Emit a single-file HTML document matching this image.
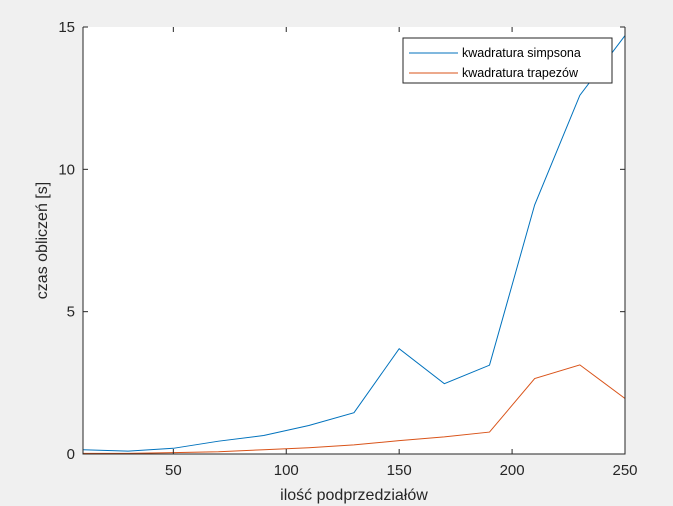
<!DOCTYPE html>
<html><head><meta charset="utf-8"><style>
body{margin:0;background:#f0f0f0;}
svg{display:block;font-family:"Liberation Sans",sans-serif;}
</style></head><body>
<svg id="chart" width="673" height="506"></svg>
<script>
const xs=[10,30,50,70,90,110,130,150,170,190,210,230,250];
const simpson=[0.15,0.1,0.2,0.45,0.65,1.0,1.45,3.7,2.47,3.12,8.75,12.6,14.7];
const trapez=[0.02,0.02,0.05,0.08,0.15,0.22,0.32,0.47,0.6,0.77,2.65,3.13,1.95];
const xTicks=[50,100,150,200,250];
const yTicks=[0,5,10,15];
const L=83,R=625,T=27,B=454;
const sx=v=>L+(v-10)/240*(R-L);
const sy=v=>B-v/15*(B-T);
const svg=document.getElementById('chart');
const NS='http://www.w3.org/2000/svg';
function mk(tag,attrs,parent){const e=document.createElementNS(NS,tag);for(const k in attrs)e.setAttribute(k,attrs[k]);(parent||svg).appendChild(e);return e;}
let bg=mk('rect',{x:L,y:T,width:R-L,height:B-T,fill:'#fff'});


function series(vals,color,name){
  const p=mk('polyline',{points:vals.map((v,i)=>sx(xs[i])+','+sy(v)).join(' '),fill:'none',stroke:color,'stroke-width':1});
  
  
}
series(simpson,'#0072bd','series-simpson');
series(trapez,'#d95319','series-trapez');
let ax=mk('path',{d:`M${L},${T}V${B}H${R}V${T}`,fill:'none',stroke:'#262626','stroke-width':1});


xTicks.forEach(t=>{
  mk('line',{x1:sx(t),x2:sx(t),y1:B,y2:B-5,stroke:'#262626'});
  mk('line',{x1:sx(t),x2:sx(t),y1:T,y2:T+5,stroke:'#262626'});
  const tx=mk('text',{x:sx(t),y:B+21,'text-anchor':'middle','font-size':15,fill:'#262626'});tx.textContent=t;
  
  
});
yTicks.forEach(t=>{
  mk('line',{x1:L,x2:L+5,y1:sy(t),y2:sy(t),stroke:'#262626'});
  mk('line',{x1:R,x2:R-5,y1:sy(t),y2:sy(t),stroke:'#262626'});
  const tx=mk('text',{x:L-8,y:sy(t)+5,'text-anchor':'end','font-size':15,fill:'#262626'});tx.textContent=t;
  
  
});
let xt=mk('text',{x:(L+R)/2,y:500,'text-anchor':'middle','font-size':16,fill:'#262626'});xt.textContent='ilość podprzedziałów';


let yt=mk('text',{x:0,y:0,'text-anchor':'middle','font-size':16,fill:'#262626',transform:`translate(47,${(T+B)/2}) rotate(-90)`});yt.textContent='czas obliczeń [s]';


const lg=mk('g',{});


mk('rect',{x:403,y:38,width:209,height:45,fill:'#fff',stroke:'#262626','stroke-width':1},lg);
[['kwadratura simpsona','#0072bd',53],['kwadratura trapezów','#d95319',73]].forEach(([n,c,y])=>{
  mk('line',{x1:409,x2:458,y1:y,y2:y,stroke:c},lg);
  const t=mk('text',{x:462,y:y+4,'font-size':12.5,fill:'#000'},lg);t.textContent=n;
  
  
});
</script>
</body></html>
